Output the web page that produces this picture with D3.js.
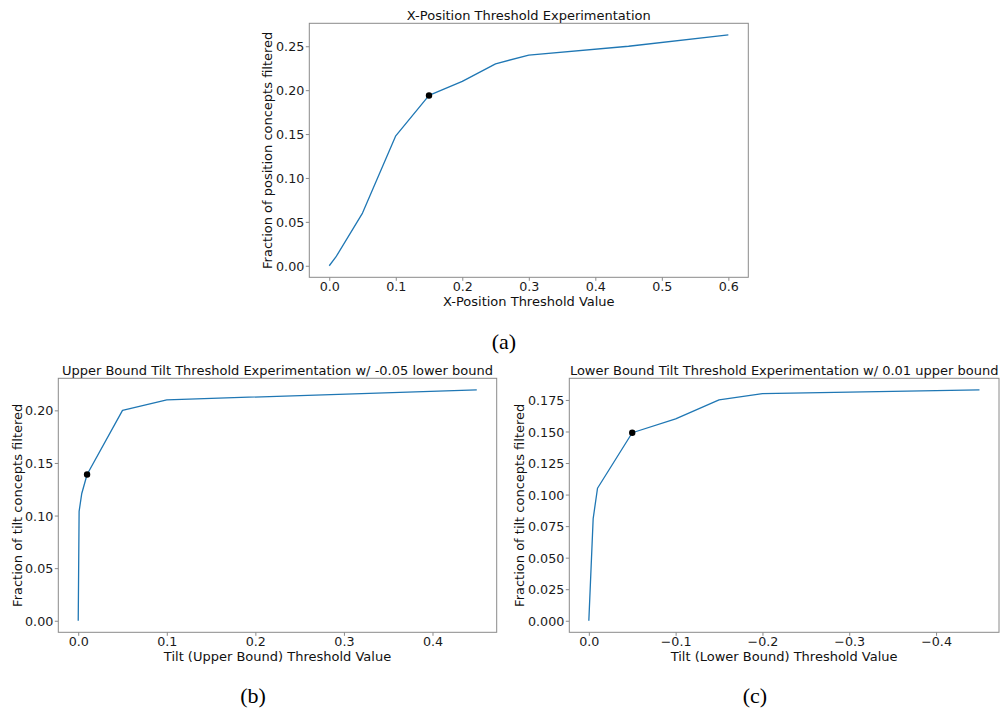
<!DOCTYPE html>
<html>
<head>
<meta charset="utf-8">
<script src="https://cdn.jsdelivr.net/npm/d3@7"></script>
<style>
  body { margin: 0; background: #fff; }
  svg { display: block; }
</style>
</head>
<body>
<svg id="chart"></svg>
<script>
// (a) x-position threshold sweep
const xPosThreshold = [0, 0.01, 0.05, 0.1, 0.15, 0.2, 0.25, 0.3, 0.45, 0.6]
const xPosFiltered = [0, 0.01, 0.06, 0.148, 0.194, 0.21, 0.23, 0.24, 0.25, 0.263]
const xPosChosen = 4

// (b) upper bound tilt sweep, lower bound fixed at -0.05
const upperThreshold = [0, 0.001, 0.004, 0.01, 0.05, 0.1, 0.45]
const upperFiltered = [0, 0.104, 0.121, 0.139, 0.2, 0.21, 0.2195]
const upperChosen = 3

// (c) lower bound tilt sweep, upper bound fixed at 0.01
const lowerThreshold = [0, -0.005, -0.01, -0.05, -0.1, -0.15, -0.2, -0.45]
const lowerFiltered = [0, 0.081, 0.105, 0.149, 0.16, 0.175, 0.18, 0.183]
const lowerChosen = 3

const xPosTicksX = [0, 0.1, 0.2, 0.3, 0.4, 0.5, 0.6]
const xPosTicksY = [0, 0.05, 0.1, 0.15, 0.2, 0.25]
const upperTicksX = [0, 0.1, 0.2, 0.3, 0.4]
const upperTicksY = [0, 0.05, 0.1, 0.15, 0.2]
const lowerTicksX = [0, -0.1, -0.2, -0.3, -0.4]
const lowerTicksY = [0, 0.025, 0.05, 0.075, 0.1, 0.125, 0.15, 0.175]

const dimension = { width: 1000, height: 711 }
const font = 'DejaVu Sans'
const tickSize = 12.7
const labelSize = 13
const spineColor = '#8a8a8a'

const svg = d3
  .select('#chart')
  .attr('width', dimension.width)
  .attr('height', dimension.height)

svg.append('rect').attr('width', dimension.width).attr('height', dimension.height).attr('fill', '#fff')

// matplotlib style 5% margins
const pad = (values) => {
  const [lo, hi] = d3.extent(values)
  const m = (hi - lo) * 0.05
  return [lo - m, hi + m]
}

const drawPanel = (p) => {
  const width = p.right - p.left
  const height = p.bottom - p.top

  const xDom = pad(p.xs)
  const xScale = d3
    .scaleLinear()
    .domain(p.reverseX ? [xDom[1], xDom[0]] : xDom)
    .range([0, width])
  const yScale = d3.scaleLinear().domain(pad(p.ys)).range([height, 0])

  const g = svg.append('g').attr('transform', `translate(${p.left}, ${p.top})`)

  const styleAxis = (sel) => {
    sel.select('.domain').remove()
    sel.selectAll('.tick line').attr('stroke', spineColor).attr('stroke-width', 1)
    sel
      .selectAll('.tick text')
      .attr('fill', '#1a1a1a')
      .attr('font-family', font)
      .attr('font-size', tickSize)
  }

  g.append('g')
    .attr('transform', `translate(0, ${height})`)
    .call(
      d3.axisBottom(xScale).tickValues(p.xTicks).tickFormat(d3.format('.1f')).tickSize(3.5).tickPadding(1.5)
    )
    .call(styleAxis)

  g.append('g')
    .call(
      d3.axisLeft(yScale).tickValues(p.yTicks).tickFormat(d3.format(p.yFormat)).tickSize(3.5).tickPadding(1.5)
    )
    .call(styleAxis)
    .selectAll('.tick text')
    .attr('dy', '0.36em')

  g.append('rect')
    .attr('width', width)
    .attr('height', height)
    .attr('fill', 'none')
    .attr('stroke', spineColor)
    .attr('stroke-width', 1)

  const line = d3
    .line()
    .x((d) => xScale(d[0]))
    .y((d) => yScale(d[1]))

  g.append('path')
    .datum(d3.zip(p.xs, p.ys))
    .attr('d', line)
    .attr('fill', 'none')
    .attr('stroke', '#1f77b4')
    .attr('stroke-width', 1.3)
    .attr('stroke-linejoin', 'round')

  g.append('circle')
    .attr('cx', xScale(p.xs[p.chosen]))
    .attr('cy', yScale(p.ys[p.chosen]))
    .attr('r', 3.2)
    .attr('fill', '#000')

  const text = (x, y, str) =>
    g.append('text')
      .attr('x', x)
      .attr('y', y)
      .attr('text-anchor', 'middle')
      .attr('font-family', font)
      .attr('font-size', labelSize)
      .attr('fill', '#111')
      .text(str)

  text(width / 2, -3.3, p.title)
  text(width / 2, height + 28.5, p.xLabel)
  text(0, 0, p.yLabel).attr('transform', `translate(${-p.yLabelOffset}, ${height / 2}) rotate(-90)`)

  svg.append('text')
    .attr('x', p.captionX)
    .attr('y', p.captionY)
    .attr('text-anchor', 'middle')
    .attr('font-family', 'Liberation Serif')
    .attr('font-size', 22)
    .attr('fill', '#000')
    .text(p.caption)
}

drawPanel({
  left: 309.3, right: 748.3, top: 23.3, bottom: 277.3,
  xs: xPosThreshold, ys: xPosFiltered, chosen: xPosChosen,
  xTicks: xPosTicksX, yTicks: xPosTicksY, yFormat: '.2f',
  title: 'X-Position Threshold Experimentation',
  xLabel: 'X-Position Threshold Value',
  yLabel: 'Fraction of position concepts filtered',
  yLabelOffset: 37,
  caption: '(a)', captionX: 504, captionY: 349
})

drawPanel({
  left: 58.3, right: 496.7, top: 378.3, bottom: 632.3,
  xs: upperThreshold, ys: upperFiltered, chosen: upperChosen,
  xTicks: upperTicksX, yTicks: upperTicksY, yFormat: '.2f',
  title: 'Upper Bound Tilt Threshold Experimentation w/ -0.05 lower bound',
  xLabel: 'Tilt (Upper Bound) Threshold Value',
  yLabel: 'Fraction of tilt concepts filtered',
  yLabelOffset: 36.6,
  caption: '(b)', captionX: 253, captionY: 703
})

drawPanel({
  left: 569.3, right: 999, top: 378.3, bottom: 632.3,
  xs: lowerThreshold, ys: lowerFiltered, chosen: lowerChosen, reverseX: true,
  xTicks: lowerTicksX, yTicks: lowerTicksY, yFormat: '.3f',
  title: 'Lower Bound Tilt Threshold Experimentation w/ 0.01 upper bound',
  xLabel: 'Tilt (Lower Bound) Threshold Value',
  yLabel: 'Fraction of tilt concepts filtered',
  yLabelOffset: 45,
  caption: '(c)', captionX: 755, captionY: 703
})
</script>
</body>
</html>
